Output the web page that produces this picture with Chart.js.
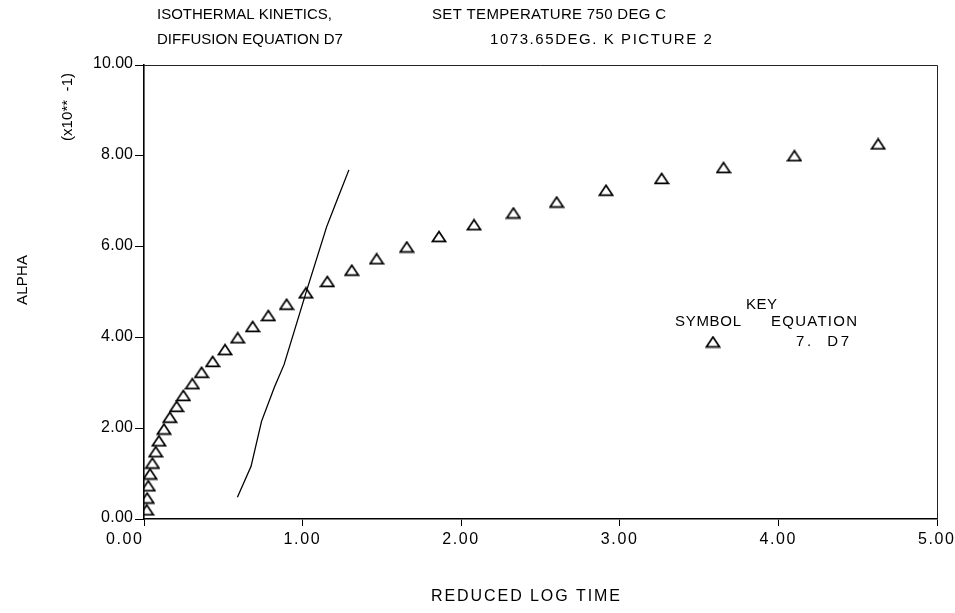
<!DOCTYPE html>
<html><head><meta charset="utf-8">
<script src="https://cdn.jsdelivr.net/npm/chart.js@4/dist/chart.umd.min.js"></script>
<style>html,body{margin:0;padding:0;background:#fff}#wrap{width:955px;height:613px}</style>
</head><body><div id="wrap"><canvas id="c" width="955" height="613"></canvas></div>
<script>
// ---- data (alpha in units of 10**-1) ----
const symbolTime = [0.017,0.020,0.027,0.038,0.053,0.074,0.094,0.126,0.163,0.206,0.248,0.305,0.363,0.433,0.511,0.591,0.685,0.784,0.899,1.021,1.156,1.310,1.467,1.657,1.860,2.081,2.329,2.602,2.913,3.264,3.654,4.101,4.629];
const symbolAlpha = [0.20,0.46,0.73,0.99,1.23,1.48,1.72,1.98,2.24,2.48,2.72,2.98,3.23,3.47,3.73,3.99,4.24,4.48,4.73,4.98,5.23,5.48,5.73,5.99,6.22,6.48,6.74,6.98,7.24,7.50,7.74,8.00,8.26];
const lineTime = [0.589,0.675,0.741,0.822,0.883,1.021,1.152,1.218,1.292];
const lineAlpha = [0.48,1.16,2.15,2.90,3.40,4.98,6.44,7.03,7.69];
const xTicks = [0,1,2,3,4,5];
const yTicks = [0,2,4,6,8,10];
const titleLeft = ["ISOTHERMAL KINETICS,", "DIFFUSION EQUATION D7"];
const titleRight = ["SET TEMPERATURE 750 DEG C", "1073.65DEG. K PICTURE 2"];
const xTitle = "REDUCED LOG TIME";
const yTitle = "ALPHA";
const yScaleNote = "(x10**  -1)";
const keyTitle = "KEY";
const keyHeads = ["SYMBOL", "EQUATION"];
const keyEntry = "7.  D7";

// ---- styling ----
const FONT = '"Liberation Sans", Arial, sans-serif';
function makeTriangle(){
  const cv = document.createElement('canvas');
  cv.width = 16; cv.height = 13;
  const g = cv.getContext('2d');
  g.strokeStyle = '#000'; g.lineWidth = 1.7; g.lineJoin = 'miter';
  g.beginPath(); g.moveTo(1.5,11.3); g.lineTo(14.5,11.3); g.lineTo(8,1.5); g.closePath(); g.stroke();
  return cv;
}
const tri = makeTriangle();

// draw text spread to a target width starting at left edge x (baseline middle)
function fitText(ctx, text, x, y, w){
  ctx.letterSpacing = '0px';
  const nat = ctx.measureText(text).width;
  const ls = (w && text.length > 1) ? (w - nat) / (text.length - 1) : 0;
  ctx.letterSpacing = ls.toFixed(2) + 'px';
  ctx.textAlign = 'left';
  ctx.fillText(text, x, y);
  ctx.letterSpacing = '0px';
}

const textPlugin = {
  id: 'texts',
  afterDraw(chart){
    const ctx = chart.ctx, xs = chart.scales.x, ys = chart.scales.y, a = chart.chartArea;
    ctx.save();
    // frame top & right
    ctx.strokeStyle = '#222'; ctx.lineWidth = 1;
    ctx.beginPath(); ctx.moveTo(a.left, a.top + 0.5); ctx.lineTo(a.right + 0.5, a.top + 0.5); ctx.lineTo(a.right + 0.5, a.bottom); ctx.stroke();
    ctx.fillStyle = '#000';
    ctx.textBaseline = 'middle';
    // tick labels
    ctx.font = '16px ' + FONT;
    yTicks.forEach(v => {
      const s = v.toFixed(2), w = s.length * 8;
      fitText(ctx, s, 133 - w, ys.getPixelForValue(v) - 1, w);
    });
    xTicks.forEach((v, i) => {
      const s = v.toFixed(2), w = 36, px = xs.getPixelForValue(v);
      fitText(ctx, s, i === 0 ? px - 2 - w : px - w / 2 - 1, a.bottom + 21, w);
    });
    // titles
    ctx.font = '15px ' + FONT;
    fitText(ctx, titleLeft[0], 157, 15, 0);
    fitText(ctx, titleLeft[1], 157, 40, 186);
    fitText(ctx, titleRight[0], 432, 15, 234);
    fitText(ctx, titleRight[1], 490, 40, 222);
    // x title
    ctx.font = '16px ' + FONT;
    fitText(ctx, xTitle, 525 - 94, 597, 189);
    // key
    ctx.font = '15px ' + FONT;
    fitText(ctx, keyTitle, 746, 305, 31);
    fitText(ctx, keyHeads[0], 675, 322, 66);
    fitText(ctx, keyHeads[1], 771, 322, 86);
    fitText(ctx, keyEntry, 796, 342, 53);
    ctx.drawImage(tri, 713 - 8, 342 - 6.5);
    // y titles
    ctx.save(); ctx.translate(23, 280); ctx.rotate(-Math.PI/2); fitText(ctx, yTitle, -25, 0, 50); ctx.restore();
    ctx.save(); ctx.translate(68, 107); ctx.rotate(-Math.PI/2); fitText(ctx, yScaleNote, -34, 0, 68); ctx.restore();
    ctx.restore();
  }
};

new Chart(document.getElementById('c'), {
  type: 'scatter',
  data: {
    datasets: [
      {
        label: 'D7 symbols',
        data: symbolTime.map((t, i) => ({x: t, y: symbolAlpha[i]})),
        pointStyle: tri, pointRadius: 7, showLine: false
      },
      {
        label: 'D7 line',
        data: lineTime.map((t, i) => ({x: t, y: lineAlpha[i]})),
        showLine: true, borderColor: '#000', borderWidth: 1.3, pointRadius: 0, tension: 0, fill: false
      }
    ]
  },
  options: {
    responsive: false, animation: false, devicePixelRatio: 1,
    layout: {padding: {left: 0, top: 65, right: 18, bottom: 0}},
    plugins: {legend: {display: false}, tooltip: {enabled: false}},
    scales: {
      x: {
        type: 'linear', min: 0, max: 5,
        afterBuildTicks: s => { s.ticks = xTicks.map(v => ({value: v})); },
        ticks: {display: false},
        grid: {drawOnChartArea: false, drawTicks: true, tickLength: 7, color: '#000', lineWidth: 1},
        border: {display: true, color: '#000', width: 1.6},
        afterFit: s => { s.height = 94; }
      },
      y: {
        type: 'linear', min: 0, max: 10,
        afterBuildTicks: s => { s.ticks = yTicks.map(v => ({value: v})); },
        ticks: {display: false},
        grid: {drawOnChartArea: false, drawTicks: true, tickLength: 9, color: '#000', lineWidth: 1},
        border: {display: true, color: '#000', width: 1.6},
        afterFit: s => { s.width = 144; }
      }
    }
  },
  plugins: [textPlugin]
});
</script>
</body></html>
